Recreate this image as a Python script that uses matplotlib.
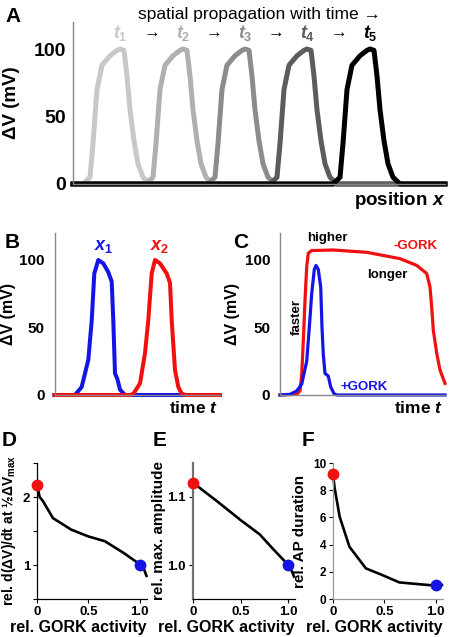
#%%
import numpy as np
import matplotlib
matplotlib.use('Agg')
import matplotlib.pyplot as plt

plt.rcParams['font.family'] = ['Liberation Sans', 'DejaVu Sans']
plt.rcParams['mathtext.fontset'] = 'custom'
plt.rcParams['mathtext.rm'] = 'Liberation Sans:bold'
plt.rcParams['mathtext.it'] = 'Liberation Sans:italic:bold'
plt.rcParams['mathtext.bf'] = 'Liberation Sans:bold'

#%% data
# A: one action potential profile (offset from peak, mV) and the peak positions
ap_dx = [-37, -30, -27, -23, -18, -10, -3, 0, 4, 7, 10, 14, 18, 23, 30]
ap_v = [0, 5, 30, 70, 88, 95, 99, 100, 99, 80, 55, 32, 15, 5, 0]
a_peaks = [47, 110, 172, 234, 297]
a_len = 372
a_colors = ['#c8c8c8', '#b0b0b0', '#8c8c8c', '#5c5c5c', '#000000']
a_labels = ['$t_1$', '$t_2$', '$t_3$', '$t_4$', '$t_5$']

# B: membrane potential at two positions x1 and x2
b_x1_t = [0, 20.5, 27.2, 33.8, 37.2, 39.8, 43.8, 48.8, 53.8, 57.2, 58.8, 60.5, 62.8, 65.5, 70.5, 165.5]
b_x1_v = [0, 0, 6, 26, 55, 90, 100, 97.5, 91, 84, 55, 16, 12, 4, 0, 0]
b_x2_t = [0, 76, 79, 85.5, 90.5, 93.8, 97.2, 100.5, 105.5, 112.2, 115.5, 117.2, 120.5, 123.8, 127.2, 131, 165.5]
b_x2_v = [0, 0, 1, 8.6, 31, 55.5, 90, 100, 97.5, 90, 83, 55.5, 18.5, 6, 1, 0, 0]

# C: AP without / with GORK
c_minus_t = [0, 16.7, 20, 21.7, 23.3, 25, 26.7, 28.3, 31.7, 53.3, 86.7, 120, 136.7, 146.7, 150, 151.7, 153.3, 156.7, 160, 165]
c_minus_v = [0, 0.5, 3, 15, 40, 70, 95, 105, 107, 107.4, 105.7, 101, 96, 90, 80, 65, 48, 31, 18.5, 8.6]
c_plus_t = [0, 10, 16.7, 21.7, 26.7, 29.3, 31.7, 34.3, 36, 38.3, 40.7, 42, 43.3, 45, 48.3, 50.7, 54, 56.7, 165]
c_plus_v = [0, 0.5, 3, 8, 25, 50, 75, 93, 96, 93, 80, 50, 30, 16, 14, 6, 1, 0, 0]

# D-F: dependence on relative GORK activity
d_gork = [0, 0.026, 0.058, 0.155, 0.333, 0.5, 0.66, 0.84, 1.0, 1.04, 1.065]
d_slope = [2.18, 2.0, 1.94, 1.69, 1.52, 1.42, 1.35, 1.18, 1.01, 0.94, 0.84]
e_gork = [0, 0.25, 0.5, 0.7, 0.85, 1.0, 1.04, 1.06]
e_amp = [1.121, 1.094, 1.066, 1.045, 1.022, 1.0, 0.99, 0.983]
f_gork = [0, 0.015, 0.065, 0.16, 0.32, 0.48, 0.645, 0.82, 1.0, 1.06]
f_dur = [9.22, 8.2, 6.04, 3.84, 2.25, 1.76, 1.22, 1.1, 0.98, 1.03]
dot_red = [0, 2.18, 1.121, 9.22]
dot_blue = [1.0, 1.0, 1.0, 1.0]

#%% layout helpers
W, H = 449, 637
fig = plt.figure(figsize=(W / 100, H / 100), dpi=100)


def px_axes(l, r, t, b):
    return fig.add_axes([l / W, 1 - b / H, (r - l) / W, (b - t) / H])


def style_axes(ax, spine_col='#888888', spine_lw=1.0):
    ax.spines['top'].set_visible(False)
    ax.spines['right'].set_visible(False)
    for s in ['left', 'bottom']:
        ax.spines[s].set_color(spine_col)
        ax.spines[s].set_linewidth(spine_lw)


#%% A
axA = px_axes(73, 445, 22, 184)
style_axes(axA)
for i in range(5):
    xs = [0] + [a_peaks[i] + d for d in ap_dx] + [a_len]
    vs = [0] + ap_v + [0]
    axA.plot(xs, vs, color=a_colors[i], lw=3.6, clip_on=False, solid_joinstyle='round')
    axA.text(a_peaks[i], 112, a_labels[i], color=a_colors[i], fontsize=13,
             ha='center', va='center')
for i in range(4):
    axA.text((a_peaks[i] + a_peaks[i + 1]) / 2, 112, '→', fontsize=12,
             ha='center', va='center')
axA.set_xlim(0, a_len)
axA.set_ylim(0, 120)
axA.set_xticks([])
axA.set_yticks([0, 50, 100])
axA.tick_params(axis='y', length=0, pad=5, labelsize=14)
for lab in axA.get_yticklabels():
    lab.set_fontweight('bold')
axA.set_ylabel('ΔV (mV)', fontsize=13.5, fontweight='bold')
axA.yaxis.set_label_coords(-0.142, 0.5)
axA.text(1.0, -0.1, 'position $x$', transform=axA.transAxes, ha='right',
         va='center', fontsize=13.5, fontweight='bold')
fig.text(259 / W, 1 - 15 / H, 'spatial propagation with time →', fontsize=12.5,
         ha='center', va='center')
fig.text(5 / W, 1 - 17 / H, 'A', fontsize=15, fontweight='bold', va='center')

#%% B
axB = px_axes(54.5, 220, 233, 395)
style_axes(axB)
axB.plot(b_x1_t, b_x1_v, color='#1414e6', lw=2.9, clip_on=False)
axB.plot(b_x2_t, b_x2_v, color='#f01010', lw=2.9, clip_on=False)
axB.text(49, 110, '$x_1$', color='#1414e6', fontsize=13, ha='center', va='center')
axB.text(105.5, 110, '$x_2$', color='#f01010', fontsize=13, ha='center', va='center')
axB.set_xlim(0, 165.5)
axB.set_ylim(0, 120)
axB.set_xticks([])
axB.set_yticks([0, 50, 100])
axB.tick_params(axis='y', length=0, pad=7, labelsize=11)
for lab in axB.get_yticklabels():
    lab.set_fontweight('bold')
axB.set_ylabel('ΔV (mV)', fontsize=11.5, fontweight='bold')
axB.yaxis.set_label_coords(-0.235, 0.5)
axB.text(0.99, -0.08, 'time $t$', transform=axB.transAxes, ha='right',
         va='center', fontsize=12.5, fontweight='bold')
fig.text(5 / W, 1 - 242 / H, 'B', fontsize=15, fontweight='bold', va='center')

#%% C
axC = px_axes(280, 445, 233, 395)
style_axes(axC)
axC.plot(c_minus_t, c_minus_v, color='#f01010', lw=2.3, clip_on=False)
axC.plot(c_plus_t, c_plus_v, color='#1414e6', lw=2.3, clip_on=False)
axC.text(47, 116, 'higher', fontsize=9.5, fontweight='bold', ha='center', va='center')
axC.text(135, 110, '-GORK', color='#f01010', fontsize=9.5, fontweight='bold',
         ha='center', va='center')
axC.text(107, 89, 'longer', fontsize=9.5, fontweight='bold', ha='center', va='center')
axC.text(17, 58, 'faster', fontsize=9.5, fontweight='bold', ha='center',
         va='center', rotation=90)
axC.text(84, 6, '+GORK', color='#1414e6', fontsize=9.5, fontweight='bold',
         ha='center', va='center')
axC.set_xlim(0, 165)
axC.set_ylim(0, 120)
axC.set_xticks([])
axC.set_yticks([0, 50, 100])
axC.tick_params(axis='y', length=0, pad=7, labelsize=11)
for lab in axC.get_yticklabels():
    lab.set_fontweight('bold')
axC.set_ylabel('ΔV (mV)', fontsize=11.5, fontweight='bold')
axC.yaxis.set_label_coords(-0.24, 0.5)
axC.text(0.99, -0.08, 'time $t$', transform=axC.transAxes, ha='right',
         va='center', fontsize=12.5, fontweight='bold')
fig.text(233 / W, 1 - 242 / H, 'C', fontsize=15, fontweight='bold', va='center')


#%% D-F
def gork_panel(ax, xs, ys, i, ylabel, label_x, ylabel_size=11):
    ax.plot(xs, ys, color='black', lw=1.9, clip_on=False, zorder=2)
    ax.plot([0], [dot_red[i]], 'o', color='#f01010', ms=7.5, clip_on=False, zorder=3)
    ax.plot([1.0], [dot_blue[i]], 'o', color='#1414e6', ms=7.5, clip_on=False, zorder=3)
    ax.set_xlim(0, 1.07)
    ax.set_xticks([0, 0.5, 1.0])
    ax.set_xticklabels(['0', '0.5', '1.0'])
    ax.tick_params(length=3, width=0.8, pad=2, labelsize=9.5)
    for lab in ax.get_xticklabels() + ax.get_yticklabels():
        lab.set_fontweight('bold')
    ax.set_xlabel('rel. GORK activity', fontsize=11.5, fontweight='bold', ha='right')
    ax.xaxis.set_label_coords(1.0, -0.155)
    ax.set_ylabel(ylabel, fontsize=ylabel_size, fontweight='bold')
    ax.yaxis.set_label_coords(label_x, 0.5)


axD = px_axes(37, 147, 463, 599)
style_axes(axD, 'black', 0.9)
gork_panel(axD, d_gork, d_slope, 1, r'rel. d(ΔV)/dt at ½ΔV$_{\mathrm{max}}$', -0.175, 10)
axD.set_ylim(0.5, 2.5)
axD.set_yticks([0.5, 1, 1.5, 2, 2.5])
axD.set_yticklabels(['', '1', '', '2', ''])
fig.text(2 / W, 1 - 440 / H, 'D', fontsize=15, fontweight='bold', va='center')

axE = px_axes(193, 295, 463, 599)
style_axes(axE, 'black', 0.9)
axE.spines['left'].set_color('#707070')
axE.spines['left'].set_linewidth(1.6)
gork_panel(axE, e_gork, e_amp, 2, 'rel. max. amplitude', -0.26)
axE.set_ylim(0.95, 1.15)
axE.set_yticks([1.0, 1.1])
axE.set_yticklabels(['1.0', '1.1'])
fig.text(153 / W, 1 - 440 / H, 'E', fontsize=15, fontweight='bold', va='center')

axF = px_axes(333, 443, 463, 599)
style_axes(axF, '#999999', 0.9)
gork_panel(axF, f_gork, f_dur, 3, 'rel. AP duration', -0.24)
axF.set_ylim(0, 10)
axF.set_yticks([0, 2, 4, 6, 8, 10])
axF.tick_params(axis='y', labelsize=8.5)
fig.text(302 / W, 1 - 440 / H, 'F', fontsize=15, fontweight='bold', va='center')

fig.savefig('out.png', dpi=100)
